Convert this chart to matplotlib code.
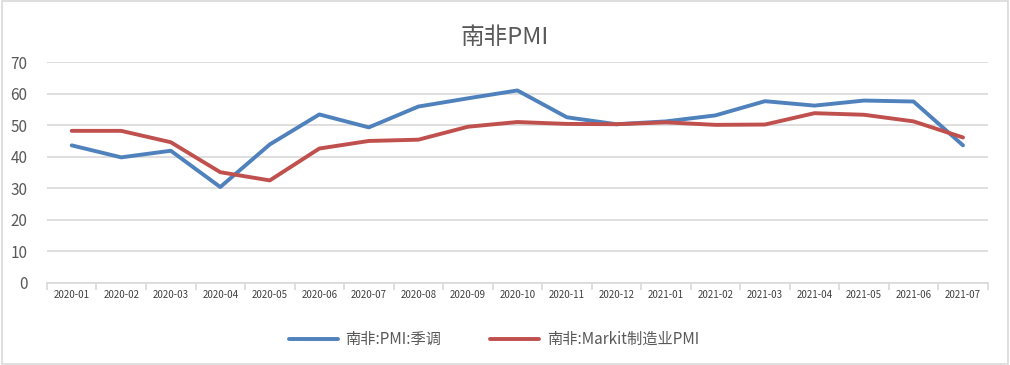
import matplotlib.pyplot as plt
import numpy as np

plt.rcParams['font.family'] = ['Noto Sans CJK SC', 'DejaVu Sans']

months = ['2020-01', '2020-02', '2020-03', '2020-04', '2020-05', '2020-06',
          '2020-07', '2020-08', '2020-09', '2020-10', '2020-11', '2020-12',
          '2021-01', '2021-02', '2021-03', '2021-04', '2021-05', '2021-06',
          '2021-07']
pmi_sa = [43.6, 39.8, 41.9, 30.4, 43.9, 53.4, 49.3, 55.9, 58.5, 61.0,
          52.5, 50.3, 51.2, 53.1, 57.6, 56.2, 57.8, 57.5, 43.6]
markit_pmi = [48.2, 48.2, 44.6, 35.1, 32.5, 42.6, 45.0, 45.4, 49.5, 51.0,
              50.4, 50.3, 50.9, 50.1, 50.2, 53.8, 53.3, 51.2, 46.1]
series_names = ['南非:PMI:季调', '南非:Markit制造业PMI']

fig = plt.figure(figsize=(10.1, 3.65), dpi=100)
ax = fig.add_axes([0.0465, 0.2247, 0.9315, 0.6053])

x = np.arange(len(months))
ax.plot(x, pmi_sa, color='#4F81BD', linewidth=2.8, label=series_names[0],
        solid_capstyle='round', zorder=3)
ax.plot(x, markit_pmi, color='#C0504D', linewidth=2.8, label=series_names[1],
        solid_capstyle='round', zorder=3)

ax.set_xlim(-0.5, len(months) - 0.5)
ax.set_ylim(0, 70)
ax.set_yticks(range(0, 71, 10))
ax.yaxis.grid(True, color='#D9D9D9', linewidth=1.2)
ax.set_axisbelow(True)

# category labels centered, ticks between categories
ax.set_xticks(x)
ax.set_xticklabels(months, fontsize=7, color='#404040')
ax.tick_params(axis='x', which='major', length=0, pad=5)
ax.set_xticks(np.arange(-0.5, len(months), 1), minor=True)
ax.tick_params(axis='x', which='minor', length=5, color='#D9D9D9', width=1.2)
ax.tick_params(axis='y', length=0, labelsize=11, labelcolor='#595959', pad=14)

for s in ['top', 'right', 'left']:
    ax.spines[s].set_visible(False)
ax.spines['bottom'].set_color('#D9D9D9')
ax.spines['bottom'].set_linewidth(1.2)

fig.suptitle('南非PMI', fontsize=17, color='#595959', y=0.93)

fig.legend(loc='center', bbox_to_anchor=(0.489, 0.07), ncol=2, frameon=False,
           fontsize=11, labelcolor='#595959', handlelength=3.2, columnspacing=3.2,
           handletextpad=0.5)

# outer border
fig.patches.append(plt.Rectangle((0.0015, 0.003), 0.997, 0.994,
                                 transform=fig.transFigure, fill=False,
                                 edgecolor='#D9D9D9', linewidth=1.2))

fig.savefig('out.png', dpi=100)
